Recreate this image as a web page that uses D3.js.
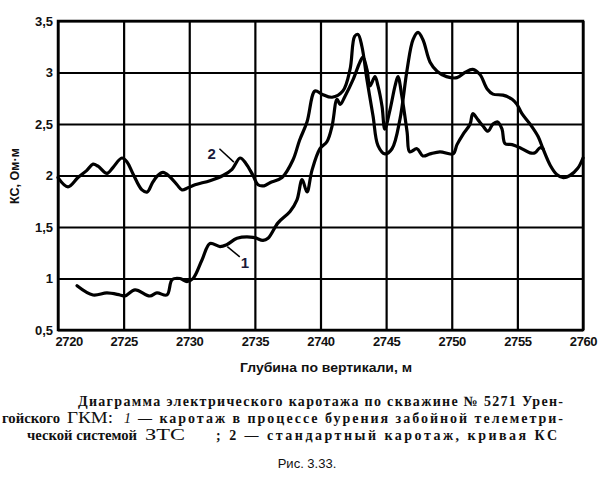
<!DOCTYPE html>
<html>
<head>
<meta charset="utf-8">
<script src="https://cdn.jsdelivr.net/npm/d3@7/dist/d3.min.js"></script>
<style>
  html, body { margin: 0; padding: 0; background: #fff; }
  svg { display: block; }
</style>
</head>
<body>
<svg id="chart" width="600" height="477"></svg>
<script>
// ---- data ----
const depthTicks = [2720, 2725, 2730, 2735, 2740, 2745, 2750, 2755, 2760];
const ksTicks = [0.5, 1, 1.5, 2, 2.5, 3, 3.5];
const ksTickLabels = ["0,5", "1", "1,5", "2", "2,5", "3", "3,5"];

// curve 1: logging while drilling (ZTS)
const depth1 = [2721.45, 2722.67, 2723.73, 2724.72, 2725.1, 2725.87, 2727.0, 2727.54, 2728.3, 2728.7,
  2729.3, 2729.83, 2730.29, 2730.97, 2731.58, 2732.34, 2732.88, 2733.64, 2734.86, 2735.62,
  2736.0, 2736.76, 2737.68, 2738.2, 2738.6, 2738.97, 2739.35, 2739.96, 2740.5, 2740.88,
  2741.26, 2741.5, 2741.87, 2742.48, 2743.0, 2743.24, 2743.54, 2743.77, 2744.15, 2744.38,
  2744.69, 2744.9, 2745.3, 2745.68, 2745.9, 2746.2, 2746.6, 2746.8, 2747.35, 2747.8,
  2748.35, 2749.1, 2750.1, 2750.4, 2750.86, 2751.4, 2751.6, 2752.0, 2752.38, 2752.76,
  2753.14, 2753.5, 2753.83, 2754.06, 2754.6, 2755.2, 2755.96, 2756.34, 2756.72, 2756.95];
const ks1 = [0.93, 0.84, 0.86, 0.84, 0.83, 0.89, 0.83, 0.86, 0.84, 0.99,
  1.0, 0.97, 1.0, 1.18, 1.34, 1.31, 1.33, 1.39, 1.40, 1.37,
  1.39, 1.54, 1.65, 1.76, 1.96, 1.84, 2.05, 2.26, 2.33, 2.48,
  2.74, 2.69, 2.77, 2.93, 3.10, 3.15, 3.03, 2.87, 2.96, 2.87,
  2.67, 2.45, 2.64, 2.87, 2.96, 2.77, 2.42, 2.23, 2.26, 2.19,
  2.21, 2.23, 2.21, 2.30, 2.40, 2.50, 2.60, 2.54, 2.48, 2.43,
  2.50, 2.52, 2.45, 2.31, 2.30, 2.27, 2.22, 2.22, 2.27, 2.26];

// curve 2: standard logging, KS curve
const depth2 = [2720.0, 2720.76, 2721.52, 2722.2, 2722.67, 2723.05, 2723.73, 2724.2, 2724.87, 2725.26,
  2725.7, 2726.4, 2726.8, 2727.2, 2727.6, 2728.0, 2728.5, 2729.07, 2729.45, 2729.9,
  2730.44, 2731.58, 2732.57, 2733.26, 2733.87, 2734.3, 2734.86, 2735.24, 2735.7, 2736.15,
  2737.07, 2737.9, 2738.4, 2738.97, 2739.58, 2740.11, 2740.88, 2741.7, 2742.25, 2742.6,
  2742.86, 2743.16, 2743.54, 2744.0, 2744.38, 2744.9, 2745.45, 2746.06, 2746.6, 2747.05,
  2747.43, 2747.8, 2748.35, 2748.9, 2749.6, 2750.4, 2751.0, 2751.6, 2752.15, 2752.7,
  2753.14, 2753.9, 2754.6, 2754.97, 2755.35, 2755.96, 2756.57, 2756.95, 2757.5, 2758.0,
  2758.5, 2759.0, 2759.6, 2760.0];
const ks2 = [1.98, 1.89, 1.98, 2.05, 2.11, 2.09, 2.02, 2.08, 2.17, 2.13,
  2.02, 1.86, 1.84, 1.93, 2.00, 2.03, 1.99, 1.91, 1.86, 1.88,
  1.91, 1.95, 2.00, 2.06, 2.17, 2.12, 2.00, 1.91, 1.90, 1.93,
  1.98, 2.15, 2.34, 2.52, 2.82, 2.79, 2.76, 2.82, 3.03, 3.35,
  3.37, 3.25, 2.93, 2.58, 2.29, 2.21, 2.26, 2.55, 3.03, 3.32,
  3.39, 3.32, 3.10, 3.01, 2.96, 2.95, 3.00, 3.03, 2.98, 2.84,
  2.79, 2.78, 2.74, 2.69, 2.60, 2.50, 2.38, 2.26, 2.10, 2.01,
  1.98, 2.00, 2.07, 2.17];

const yTitle = "КС, Ом·м";
const xTitle = "Глубина по вертикали, м";
const captionLine1 = "Диаграмма электрического каротажа по скважине № 5271 Урен-";
const captionLine2a = "гойского";
const captionLine2b = "ГКМ:";
const captionLine2c = "1";
const captionLine2d = "— каротаж в процессе бурения забойной телеметри-";
const captionLine3a = "ческой системой";
const captionLine3b = "ЗТС";
const captionLine3c = "; 2 — стандартный каротаж, кривая КС";
const figLabel = "Рис. 3.33.";

// ---- drawing ----
const svg = d3.select("#chart");
const L = 58, R = 583, T = 21, B = 330;
const x = d3.scaleLinear().domain([2720, 2760]).range([L, R]);
const y = d3.scaleLinear().domain([0.5, 3.5]).range([B, T]);
const SANS = "Liberation Sans, Arial, sans-serif";
const SERIF = "Liberation Serif, Times New Roman, serif";

// grid + labels via axes
const gx = svg.append("g").attr("transform", `translate(0,${B})`)
  .call(d3.axisBottom(x).tickValues(depthTicks).tickSize(-(B - T)).tickPadding(7)
    .tickFormat(d3.format("d")));
gx.select(".domain").remove();
gx.selectAll(".tick line").attr("stroke", "#000").attr("stroke-width", 2.2);
gx.selectAll(".tick text")
  .attr("font-family", SANS)
  .attr("font-size", 13).attr("font-weight", "bold").attr("fill", "#111")
  .attr("text-anchor", (d, i) => i === 0 ? "start" : "middle")
  .attr("dx", (d, i) => i === 0 ? -3 : 0)
  .attr("letter-spacing", -0.4);

const gy = svg.append("g").attr("transform", `translate(${L},0)`)
  .call(d3.axisLeft(y).tickValues(ksTicks).tickSize(-(R - L)).tickPadding(5)
    .tickFormat((d, i) => ksTickLabels[i]));
gy.select(".domain").remove();
gy.selectAll(".tick line").attr("stroke", "#000").attr("stroke-width", 2.2);
gy.selectAll(".tick text")
  .attr("font-family", SANS)
  .attr("font-size", 13).attr("font-weight", "bold").attr("fill", "#111");

// frame
svg.append("rect").attr("x", L).attr("y", T).attr("width", R - L).attr("height", B - T)
  .attr("fill", "none").attr("stroke", "#000").attr("stroke-width", 2.5);

// curves
const line = d3.line().curve(d3.curveCatmullRom.alpha(0.5));
const pts1 = depth1.map((d, i) => [x(d), y(ks1[i])]);
const pts2 = depth2.map((d, i) => [x(d), y(ks2[i])]);
svg.append("path").attr("d", line(pts2)).attr("fill", "none").attr("stroke", "#000")
  .attr("stroke-width", 3.2).attr("stroke-linejoin", "round").attr("stroke-linecap", "round");
svg.append("path").attr("d", line(pts1)).attr("fill", "none").attr("stroke", "#000")
  .attr("stroke-width", 3.2).attr("stroke-linejoin", "round").attr("stroke-linecap", "round");

// curve labels with leaders
const lab = svg.append("g").attr("font-family", SANS)
  .attr("font-size", 15).attr("font-weight", "bold").attr("fill", "#1a1a3a");
lab.append("text").attr("x", x(2731.7)).attr("y", y(2.16)).attr("text-anchor", "middle").text("2");
svg.append("line").attr("x1", x(2732.3)).attr("y1", y(2.26)).attr("x2", x(2733.4)).attr("y2", y(2.13))
  .attr("stroke", "#000").attr("stroke-width", 1.5);
lab.append("text").attr("x", x(2734.25)).attr("y", y(1.10)).attr("text-anchor", "middle").text("1");
svg.append("line").attr("x1", x(2732.9)).attr("y1", y(1.31)).attr("x2", x(2733.85)).attr("y2", y(1.21))
  .attr("stroke", "#000").attr("stroke-width", 1.5);

// axis titles
svg.append("text").attr("transform", `translate(19,176) rotate(-90)`).attr("text-anchor", "middle")
  .attr("font-family", SANS).attr("font-size", 12.5).attr("font-weight", "bold")
  .attr("fill", "#111").text(yTitle);
svg.append("text").attr("x", 326).attr("y", 372).attr("text-anchor", "middle")
  .attr("font-family", SANS).attr("font-size", 12.5)
  .attr("font-weight", "bold").attr("fill", "#111").attr("textLength", 172).attr("lengthAdjust", "spacingAndGlyphs")
  .text(xTitle);

// caption
const cap = svg.append("g").attr("font-family", SERIF)
  .attr("font-size", 14).attr("fill", "#111").attr("font-weight", "bold");
cap.append("text").attr("x", 78).attr("y", 406).attr("textLength", 485).attr("lengthAdjust", "spacing")
  .text(captionLine1);
cap.append("text").attr("x", 2).attr("y", 423).attr("textLength", 58).attr("lengthAdjust", "spacingAndGlyphs")
  .text(captionLine2a);
cap.append("text").attr("x", 67).attr("y", 423).attr("font-size", 16.5).attr("font-weight", "normal")
  .attr("textLength", 46).attr("lengthAdjust", "spacingAndGlyphs").text(captionLine2b);
cap.append("text").attr("x", 124).attr("y", 423).attr("font-style", "italic").attr("font-weight", "normal")
  .text(captionLine2c);
cap.append("text").attr("x", 138).attr("y", 423).attr("textLength", 425).attr("lengthAdjust", "spacing")
  .text(captionLine2d);
cap.append("text").attr("x", 27).attr("y", 440).attr("textLength", 110).attr("lengthAdjust", "spacingAndGlyphs")
  .text(captionLine3a);
cap.append("text").attr("x", 145).attr("y", 440).attr("font-size", 16.5).attr("font-weight", "normal")
  .attr("textLength", 40).attr("lengthAdjust", "spacingAndGlyphs").text(captionLine3b);
cap.append("text").attr("x", 216).attr("y", 440).attr("textLength", 341).attr("lengthAdjust", "spacing")
  .text(captionLine3c);
svg.append("text").attr("x", 307).attr("y", 468).attr("text-anchor", "middle")
  .attr("font-family", SANS).attr("font-size", 13)
  .attr("fill", "#111").text(figLabel);
</script>
</body>
</html>
